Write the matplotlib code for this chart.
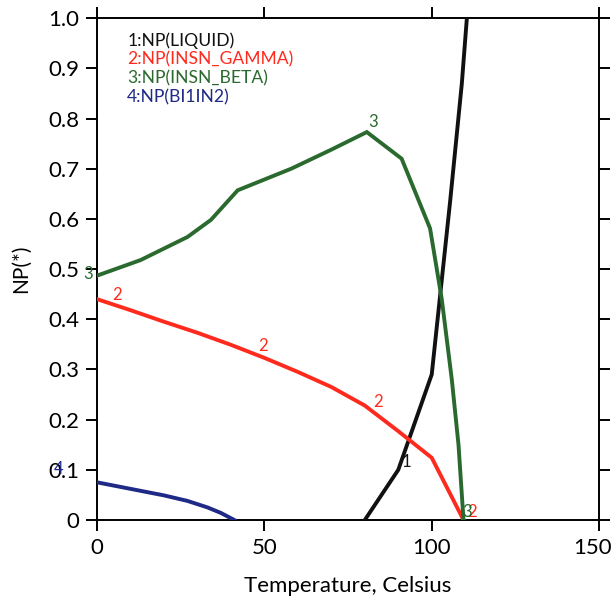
import matplotlib
matplotlib.use("Agg")
import matplotlib.pyplot as plt
from matplotlib.ticker import FixedLocator
from matplotlib.transforms import ScaledTranslation

plt.rcParams['font.family'] = ['Lato', 'DejaVu Sans']

# Phase fractions vs temperature
liquid_t = [80, 90, 100, 105.5, 109, 110.5]
liquid_np = [0.0, 0.10, 0.29, 0.635, 0.87, 1.0]

gamma_t = [0, 10, 20, 30, 40, 50, 60, 70, 80, 90, 100, 109.5]
gamma_np = [0.44, 0.418, 0.395, 0.373, 0.349, 0.323, 0.295, 0.265, 0.228, 0.177, 0.124, 0.0]

beta_t = [0, 13, 27, 34, 42, 58, 70, 80.6, 91, 99.5, 103, 106, 108, 109.5]
beta_np = [0.487, 0.518, 0.564, 0.598, 0.657, 0.70, 0.738, 0.773, 0.72, 0.581, 0.44, 0.28, 0.15, 0.0]

bi1in2_t = [0, 10, 20, 27, 33, 37, 41]
bi1in2_np = [0.075, 0.062, 0.049, 0.038, 0.025, 0.014, 0.0]

legend_labels = ["1:NP(LIQUID)", "2:NP(INSN_GAMMA)", "3:NP(INSN_BETA)", "4:NP(BI1IN2)"]
colors = ["#111111", "#ff2a1e", "#2a6a2e", "#1e2a86"]

# curve tags: (temperature, fraction, tag)
liquid_tags = [(92.5, 0.116, "1")]
gamma_tags = [(6, 0.448, "2"), (49.5, 0.347, "2"), (84, 0.235, "2"), (112, 0.015, "2")]
beta_tags = [(-2.7, 0.49, "3"), (82.5, 0.793, "3"), (110.5, 0.015, "3")]
bi1in2_tags = [(-11.6, 0.102, "4")]

x_ticks = [0, 50, 100, 150]
y_ticks = [0, 0.1, 0.2, 0.3, 0.4, 0.5, 0.6, 0.7, 0.8, 0.9, 1.0]
y_ticklabels = ["0", "0.1", "0.2", "0.3", "0.4", "0.5", "0.6", "0.7", "0.8", "0.9", "1.0"]

fig = plt.figure(figsize=(6.15, 6.05), dpi=100)
ax = fig.add_axes([0.158, 0.1405, 0.816, 0.8295])

series = [(liquid_t, liquid_np), (gamma_t, gamma_np), (beta_t, beta_np), (bi1in2_t, bi1in2_np)]
for (t, v), c in zip(series, colors):
    ax.plot(t, v, color=c, lw=2.8, solid_joinstyle='miter', zorder=3)

for tags, c in zip([liquid_tags, gamma_tags, beta_tags, bi1in2_tags], colors):
    for tx, ty, s in tags:
        ax.text(tx, ty, s, color=c, fontsize=12, ha='center', va='center',
                clip_on=False, zorder=4)

for i, (lab, c) in enumerate(zip(legend_labels, colors)):
    ax.text(0.06, 0.956 - i * 0.0378, lab, color=c, fontsize=12.6,
            transform=ax.transAxes, ha='left', va='center')

ax.set_xlim(0, 150)
ax.set_ylim(0, 1.0)
ax.xaxis.set_major_locator(FixedLocator(x_ticks))
ax.yaxis.set_major_locator(FixedLocator(y_ticks))
ax.set_yticklabels(y_ticklabels)
ax.tick_params(direction='out', length=8, width=1.4, labelsize=16,
               top=True, right=True, pad=5)
for s in ax.spines.values():
    s.set_linewidth(1.4)

# keep the rightmost x label inside the canvas
last = ax.get_xticklabels()[-1]
last.set_transform(last.get_transform() + ScaledTranslation(-5 / 72, 0, fig.dpi_scale_trans))

ax.set_xlabel("Temperature, Celsius", fontsize=16, labelpad=13)
ax.set_ylabel("NP(*)", fontsize=15, labelpad=12)

fig.savefig("out.png", dpi=100)
